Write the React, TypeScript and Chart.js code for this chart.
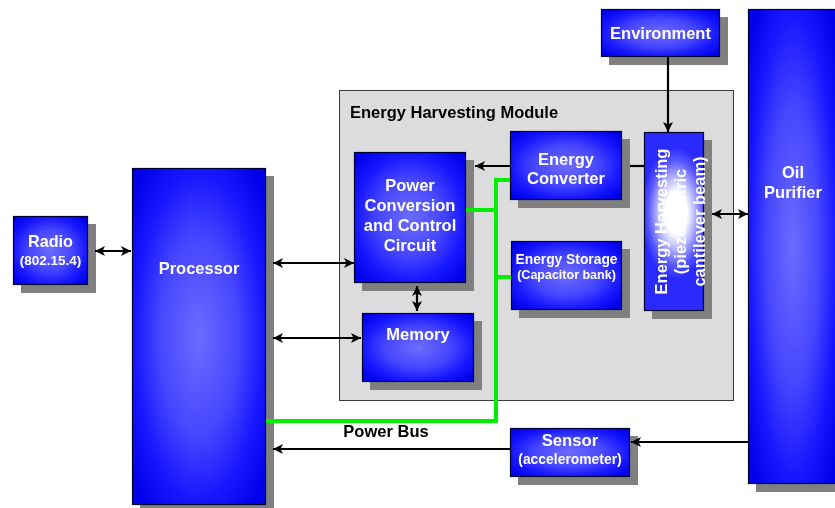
import React, { useEffect, useRef } from "react";
import { Chart, registerables } from "chart.js";

Chart.register(...registerables);

// ---- Diagram data (diagram coordinate units, 835 x 508 space) ----
const nodeLabels: string[][] = [
  ["Radio", "(802.15.4)"],
  ["Processor"],
  ["Power", "Conversion", "and Control", "Circuit"],
  ["Memory"],
  ["Energy", "Converter"],
  ["Energy Storage", "(Capacitor bank)"],
  ["Energy Harvesting", "(piezoelectric", "cantilever beam)"],
  ["Environment"],
  ["Oil", "Purifier"],
  ["Sensor", "(accelerometer)"],
];
const nodeLeft = [13, 132, 354, 362, 510, 511, 644, 601, 748, 510];
const nodeTop = [216, 168, 152, 313, 131, 241, 132, 9, 9, 428];
const nodeRight = [88, 266, 466, 474, 622, 622, 704, 720, 838, 630];
const nodeBottom = [285, 505, 283, 382, 200, 310, 311, 57, 484, 477];
const labelCenter = [252, 269, 216, 335, 169.5, 268, 681, 34, 183, 451];
const labelSizes: number[][] = [
  [16.2, 13.5],
  [16.5],
  [16.5, 16.5, 16.5, 16.5],
  [16.5],
  [16.5, 16.5],
  [13.8, 12.5],
  [16.5, 16.5, 16.5],
  [16.5],
  [16.5, 16.5],
  [16.7, 13.9],
];
const labelGap = [19, 20, 20, 20, 19, 15.5, 19, 20, 20, 18.5];
const verticalNode = 6;
const glowCenter = [676, 213];

const moduleTitle = "Energy Harvesting Module";
const moduleBox = [339, 90, 733, 400];
const moduleTitlePos = [350, 113];

const linkX1 = [95, 273, 273, 417, 510, 630, 668, 712, 748, 510];
const linkY1 = [251, 263, 338, 286, 166, 166, 57, 214, 442, 449];
const linkX2 = [131, 354, 361, 417, 475, 644, 668, 748, 631, 273];
const linkY2 = [251, 263, 338, 311, 166, 166, 132, 214, 442, 449];
const linkHeads = ["both", "both", "both", "both", "end", "none", "end", "both", "end", "end"];

const busX = [266, 496, 496, 510];
const busY = [421, 421, 180, 180];
const busBranchX1 = [466, 496];
const busBranchX2 = [496, 511];
const busBranchY = [210, 277];
const busLabel = "Power Bus";
const busLabelPos = [386, 432];

const FONT = '"Liberation Sans", Arial, Helvetica, sans-serif';

const diagramPlugin = {
  id: "diagram",
  beforeDatasetsDraw(chart: any) {
    const { ctx, scales } = chart;
    const X = (v: number) => scales.x.getPixelForValue(v);
    const Y = (v: number) => scales.y.getPixelForValue(v);

    ctx.save();
    ctx.fillStyle = "#ffffff";
    ctx.fillRect(0, 0, chart.width, chart.height);

    // module
    const mx0 = X(moduleBox[0]), my0 = Y(moduleBox[1]);
    const mx1 = X(moduleBox[2]), my1 = Y(moduleBox[3]);
    ctx.fillStyle = "#dcdcdc";
    ctx.fillRect(mx0, my0, mx1 - mx0, my1 - my0);
    ctx.strokeStyle = "#3a3a3a";
    ctx.lineWidth = 1;
    ctx.strokeRect(Math.round(mx0) + 0.5, Math.round(my0) + 0.5, mx1 - mx0, my1 - my0);
    ctx.fillStyle = "#000000";
    ctx.font = `bold 16.5px ${FONT}`;
    ctx.textAlign = "left";
    ctx.textBaseline = "middle";
    ctx.fillText(moduleTitle, X(moduleTitlePos[0]), Y(moduleTitlePos[1]));

    // nodes
    for (let i = 0; i < nodeLabels.length; i++) {
      const x0 = X(nodeLeft[i]), y0 = Y(nodeTop[i]);
      const x1 = X(nodeRight[i]), y1 = Y(nodeBottom[i]);
      const w = x1 - x0, h = y1 - y0;
      ctx.fillStyle = "#808080";
      ctx.fillRect(x0 + 8, y0 + 8, w, h);
      ctx.save();
      ctx.beginPath();
      ctx.rect(x0, y0, w, h);
      ctx.clip();
      let g;
      if (i === verticalNode) {
        ctx.translate(X(glowCenter[0]), Y(glowCenter[1]));
        ctx.scale(w / 2, w * 0.95);
        g = ctx.createRadialGradient(0, 0, 0, 0, 0, 1.15);
        g.addColorStop(0, "#ffffff");
        g.addColorStop(0.32, "#ffffff");
        g.addColorStop(0.55, "#b4b4ff");
        g.addColorStop(0.8, "#5858ff");
        g.addColorStop(1, "#2a2aff");
        ctx.fillStyle = g;
        ctx.fillRect(-4, -4, 8, 8);
      } else {
        ctx.translate(x0 + w / 2, y0 + h / 2);
        ctx.scale(w / 2, h / 2);
        g = ctx.createRadialGradient(0, 0, 0, 0, 0, 1.3);
        g.addColorStop(0, "#6c6cff");
        g.addColorStop(0.45, "#4646ff");
        g.addColorStop(0.75, "#1616ff");
        g.addColorStop(1, "#0000e8");
        ctx.fillStyle = g;
        ctx.fillRect(-1, -1, 2, 2);
      }
      ctx.restore();
      ctx.strokeStyle = "#000030";
      ctx.lineWidth = 1.2;
      ctx.strokeRect(x0 + 0.5, y0 + 0.5, w - 1, h - 1);
    }

    // links
    ctx.strokeStyle = "#000000";
    ctx.fillStyle = "#000000";
    const head = (tx: number, ty: number, fx: number, fy: number) => {
      const a = Math.atan2(ty - fy, tx - fx);
      const L = 10, W = 5;
      ctx.beginPath();
      ctx.moveTo(tx, ty);
      ctx.lineTo(tx - L * Math.cos(a) + W * Math.sin(a), ty - L * Math.sin(a) - W * Math.cos(a));
      ctx.lineTo(tx - 7.5 * Math.cos(a), ty - 7.5 * Math.sin(a));
      ctx.lineTo(tx - L * Math.cos(a) - W * Math.sin(a), ty - L * Math.sin(a) + W * Math.cos(a));
      ctx.closePath();
      ctx.fill();
    };
    for (let i = 0; i < linkX1.length; i++) {
      const ax = X(linkX1[i]), ay = Y(linkY1[i]);
      const bx = X(linkX2[i]), by = Y(linkY2[i]);
      ctx.lineWidth = 2.2;
      ctx.beginPath();
      ctx.moveTo(ax, ay);
      ctx.lineTo(bx, by);
      ctx.stroke();
      if (linkHeads[i] === "end" || linkHeads[i] === "both") head(bx, by, ax, ay);
      if (linkHeads[i] === "both") head(ax, ay, bx, by);
    }

    // power bus
    ctx.strokeStyle = "#00ee00";
    ctx.lineWidth = 4;
    ctx.lineJoin = "miter";
    ctx.beginPath();
    for (let i = 0; i < busX.length; i++) {
      if (i === 0) ctx.moveTo(X(busX[i]), Y(busY[i]));
      else ctx.lineTo(X(busX[i]), Y(busY[i]));
    }
    ctx.stroke();
    for (let i = 0; i < busBranchY.length; i++) {
      ctx.beginPath();
      ctx.moveTo(X(busBranchX1[i]), Y(busBranchY[i]));
      ctx.lineTo(X(busBranchX2[i]), Y(busBranchY[i]));
      ctx.stroke();
    }
    ctx.fillStyle = "#000000";
    ctx.font = `bold 16.5px ${FONT}`;
    ctx.textAlign = "center";
    ctx.textBaseline = "middle";
    ctx.fillText(busLabel, X(busLabelPos[0]), Y(busLabelPos[1]));

    // node labels
    ctx.fillStyle = "#ffffff";
    for (let i = 0; i < nodeLabels.length; i++) {
      const lines = nodeLabels[i];
      const gap = labelGap[i];
      const n = lines.length;
      if (i === verticalNode) {
        const cy = Y((nodeTop[i] + nodeBottom[i]) / 2);
        const cx = X(labelCenter[i]);
        ctx.save();
        ctx.translate(cx, cy);
        ctx.rotate(-Math.PI / 2);
        for (let k = 0; k < n; k++) {
          ctx.font = `bold ${labelSizes[i][k]}px ${FONT}`;
          ctx.fillText(lines[k], 0, (k - (n - 1) / 2) * gap);
        }
        ctx.restore();
      } else {
        const cx = X((nodeLeft[i] + nodeRight[i]) / 2);
        for (let k = 0; k < n; k++) {
          ctx.font = `bold ${labelSizes[i][k]}px ${FONT}`;
          ctx.fillText(lines[k], cx, Y(labelCenter[i] + (k - (n - 1) / 2) * gap));
        }
      }
    }
    ctx.restore();
  },
};

export default function App() {
  const ref = useRef<HTMLCanvasElement | null>(null);
  useEffect(() => {
    document.body.style.margin = "0";
    if (!ref.current) return;
    const chart = new Chart(ref.current, {
      type: "scatter",
      data: {
        datasets: [
          {
            data: nodeLabels.map((_, i) => ({
              x: (nodeLeft[i] + nodeRight[i]) / 2,
              y: (nodeTop[i] + nodeBottom[i]) / 2,
            })),
            pointRadius: 0,
          },
        ],
      },
      options: {
        responsive: false,
        animation: false,
        layout: { padding: 0 },
        plugins: { legend: { display: false }, tooltip: { enabled: false }, title: { display: false } },
        scales: {
          x: { type: "linear", min: 0, max: 835, display: false },
          y: { type: "linear", min: 0, max: 508, reverse: true, display: false },
        },
      },
      plugins: [diagramPlugin],
    } as any);
    return () => chart.destroy();
  }, []);
  return (
    <div style={{ position: "absolute", left: 0, top: 0, width: 835, height: 508 }}>
      <canvas ref={ref} width={835} height={508} style={{ display: "block" }} />
    </div>
  );
}
